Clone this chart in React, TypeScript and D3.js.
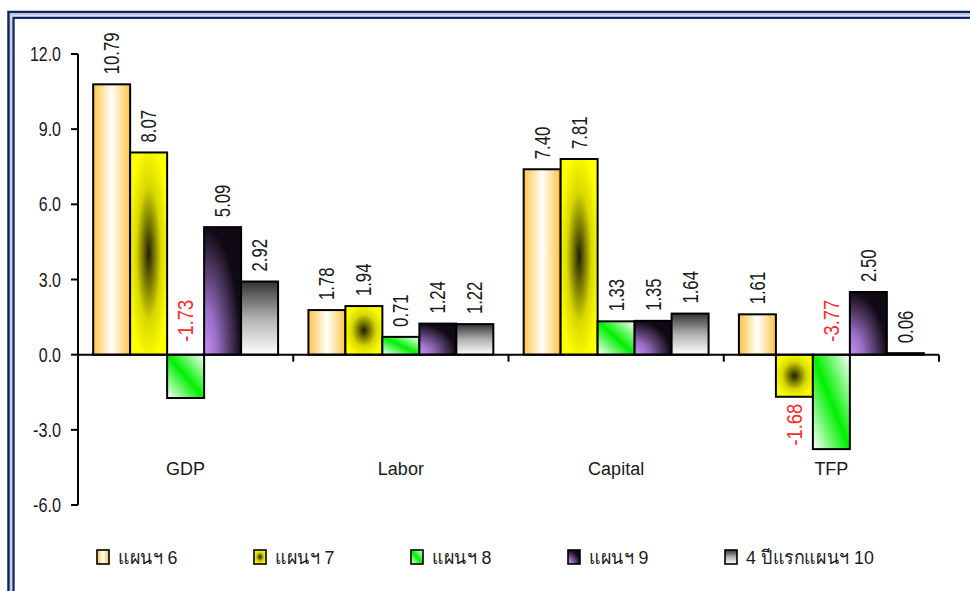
import React from "react";
import * as d3 from "d3";

const categories = ["GDP", "Labor", "Capital", "TFP"];
const seriesNames = ["แผนฯ 6", "แผนฯ 7", "แผนฯ 8", "แผนฯ 9", "4 ปีแรกแผนฯ 10"];
const plan6 = [10.79, 1.78, 7.4, 1.61];
const plan7 = [8.07, 1.94, 7.81, -1.68];
const plan8 = [-1.73, 0.71, 1.33, -3.77];
const plan9 = [5.09, 1.24, 1.35, 2.5];
const plan10 = [2.92, 1.22, 1.64, 0.06];
const yTicks = [-6, -3, 0, 3, 6, 9, 12];
// labels that sit below the end of a negative bar (others sit above the zero line)
const labelsBelowBar = ["TFP|1"];

const seriesValues = [plan6, plan7, plan8, plan9, plan10];

const W = 970;
const H = 591;
const FONT = "'Liberation Sans', Arial, sans-serif";

// width of a numeric string given per-character advances
function numWidth(s: string, digit: number, dot: number, minus: number) {
  let w = 0;
  for (const ch of s) {
    if (ch === ".") w += dot;
    else if (ch === "-") w += minus;
    else w += digit;
  }
  return w;
}

export default function App() {
  const x = d3.scaleBand<string>().domain(categories).range([78, 939]).paddingInner(0).paddingOuter(0);
  const xs = d3
    .scaleBand<number>()
    .domain(d3.range(seriesNames.length))
    .range([0, x.bandwidth()])
    .paddingInner(0)
    .paddingOuter(0.41);
  const y = d3.scaleLinear().domain([-6, 12]).range([505, 54]);
  const y0 = y(0);
  const gradIds = ["g6", "g7", "g8", "g9", "g10"];

  const bars: React.ReactNode[] = [];
  const labels: React.ReactNode[] = [];
  seriesValues.forEach((vals, si) => {
    vals.forEach((v, ci) => {
      const cat = categories[ci];
      const bx = (x(cat) as number) + (xs(si) as number);
      const bw = xs.bandwidth();
      const top = Math.min(y(v), y0);
      const h = Math.abs(y(v) - y0);
      bars.push(
        <rect
          key={`b${si}-${ci}`}
          x={bx}
          y={top}
          width={bw}
          height={h}
          fill={`url(#${gradIds[si]})`}
          stroke="#000"
          strokeWidth={2}
        />
      );
      const cx = bx + bw / 2;
      const neg = v < 0;
      const text = v.toFixed(2);
      let ty: number;
      let anchor: "start" | "end" = "start";
      if (!neg) ty = y(v) - 10;
      else if (labelsBelowBar.includes(`${cat}|${si}`)) {
        ty = y(v) + 7;
        anchor = "end";
      } else ty = y0 - 13;
      labels.push(
        <text
          key={`l${si}-${ci}`}
          transform={`translate(${cx},${ty}) rotate(-90)`}
          textAnchor={anchor}
          dominantBaseline="central"
          textLength={numWidth(text, 9.3, 4.6, 9.3)}
          lengthAdjust="spacingAndGlyphs"
          style={{ fontSize: "22px", fontFamily: FONT }}
          fill={neg ? "#ff2a2a" : "#1a1a1a"}
        >
          {text}
        </text>
      );
    });
  });

  const boundaries = [...categories.map((c) => x(c) as number), 939];

  return (
    <svg
      width={W}
      height={H}
      style={{ position: "absolute", left: 0, top: 0, background: "#fff", fontFamily: FONT }}
    >
      <defs>
        <linearGradient id="g6" x1="0" y1="0" x2="1" y2="0">
          <stop offset="0" stopColor="#ffc443" />
          <stop offset="0.5" stopColor="#ffffff" />
          <stop offset="1" stopColor="#ffc443" />
        </linearGradient>
        <radialGradient id="g7" cx="0.5" cy="0.5" r="0.55">
          <stop offset="0" stopColor="#1e1e00" />
          <stop offset="0.25" stopColor="#6e6e00" />
          <stop offset="0.6" stopColor="#d8d800" />
          <stop offset="1" stopColor="#ffff00" />
        </radialGradient>
        <linearGradient id="g8" x1="0" y1="1" x2="1" y2="0">
          <stop offset="0" stopColor="#ffffff" />
          <stop offset="0.5" stopColor="#00f000" />
          <stop offset="1" stopColor="#ffffff" />
        </linearGradient>
        <radialGradient id="g9" cx="0" cy="1" fx="0" fy="1" r="1">
          <stop offset="0" stopColor="#c890f8" />
          <stop offset="0.35" stopColor="#9a70c8" />
          <stop offset="0.65" stopColor="#5a4070" />
          <stop offset="1" stopColor="#100a14" />
        </radialGradient>
        <linearGradient id="g10" x1="0" y1="0" x2="0" y2="1">
          <stop offset="0" stopColor="#333333" />
          <stop offset="0.5" stopColor="#b0b0b0" />
          <stop offset="1" stopColor="#ffffff" />
        </linearGradient>
      </defs>

      {/* frame */}
      <rect x={0} y={0} width={W} height={H} fill="#fff" />
      <rect x={8.5} y={12} width={W + 20} height={H + 20} fill="none" stroke="#0b2566" strokeWidth={2.5} />
      <rect x={11} y={14.8} width={W + 20} height={H + 20} fill="none" stroke="#a9b3c8" strokeWidth={1.2} />
      <rect x={13.5} y={17.8} width={W + 20} height={H + 20} fill="none" stroke="#0b2566" strokeWidth={2.3} />

      {/* y axis */}
      <line x1={78} x2={78} y1={y(12)} y2={y(-6)} stroke="#000" strokeWidth={2} />
      {yTicks.map((t) => {
        const s = t.toFixed(1);
        return (
          <g key={t}>
            <line x1={71} x2={78} y1={y(t)} y2={y(t)} stroke="#000" strokeWidth={2} />
            <text
              x={61}
              y={y(t)}
              textAnchor="end"
              dominantBaseline="central"
              textLength={numWidth(s, 8.9, 4.4, 5.8)}
              lengthAdjust="spacingAndGlyphs"
              style={{ fontSize: "19.5px", fontFamily: FONT }}
              fill="#1a1a1a"
            >
              {s}
            </text>
          </g>
        );
      })}

      {bars}

      {/* zero axis with category ticks */}
      <line x1={78} x2={939} y1={y0} y2={y0} stroke="#000" strokeWidth={2} />
      {boundaries.slice(1).map((b, i) => (
        <line key={i} x1={b} x2={b} y1={y0} y2={y0 + 7} stroke="#000" strokeWidth={2} />
      ))}

      {labels}

      {categories.map((c) => (
        <text
          key={c}
          x={(x(c) as number) + x.bandwidth() / 2}
          y={469}
          textAnchor="middle"
          dominantBaseline="central"
          style={{ fontSize: "18px", fontFamily: FONT }}
          fill="#1a1a1a"
        >
          {c}
        </text>
      ))}

      {/* legend */}
      {seriesNames.map((n, i) => {
        const lx = 97 + i * 157;
        return (
          <g key={n}>
            <rect
              x={lx}
              y={550}
              width={12}
              height={14}
              fill={`url(#${gradIds[i]})`}
              stroke="#000"
              strokeWidth={1.6}
            />
            <text
              transform={`translate(${lx + 21},557) scale(0.94,1)`}
              dominantBaseline="central"
              style={{ fontSize: "19px", fontFamily: FONT }}
              fill="#1a1a1a"
            >
              {n}
            </text>
          </g>
        );
      })}
    </svg>
  );
}
